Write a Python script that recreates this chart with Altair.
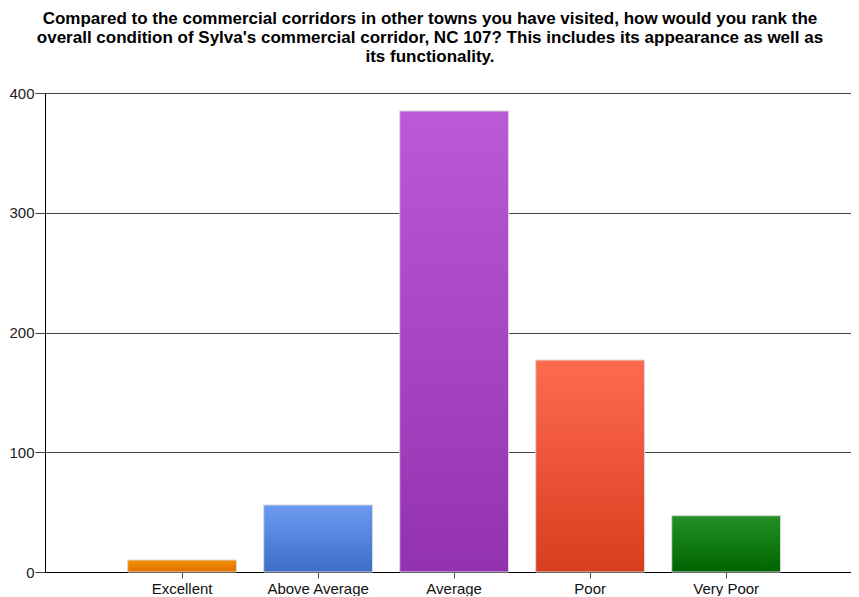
import altair as alt
import pandas as pd

categories = ["Excellent", "Above Average", "Average", "Poor", "Very Poor"]
values = [10, 56, 385, 177, 47]
top_colors = ["#f29000", "#6b9af0", "#bd58d8", "#ff6b50", "#249026"]
bottom_colors = ["#e07000", "#3d6ec8", "#9332b0", "#d83d1e", "#006400"]
y_ticks = [0, 100, 200, 300, 400]
title_lines = [
    "Compared to the commercial corridors in other towns you have visited, how would you rank the",
    "overall condition of Sylva's commercial corridor, NC 107? This includes its appearance as well as",
    "its functionality.",
]

df = pd.DataFrame({"category": categories, "value": values})

x_enc = alt.X(
    "category:N",
    sort=categories,
    title=None,
    scale=alt.Scale(domain=categories, paddingInner=0.2, paddingOuter=0.563, align=0.54),
    axis=alt.Axis(
        labelAngle=0, tickSize=6, tickColor="#444", domainColor="#000", domainWidth=1,
        labelFont="Liberation Sans", labelFontSize=15, labelColor="#111", labelPadding=3,
        grid=False,
    ),
)
y_enc = alt.Y(
    "value:Q",
    title=None,
    scale=alt.Scale(domain=[0, 400], nice=False),
    axis=alt.Axis(
        values=y_ticks, tickSize=10, tickColor="#444", domainColor="#000", domainWidth=1,
        gridColor="#444", gridWidth=1.2, gridOpacity=1,
        labelFont="Liberation Sans", labelFontSize=15, labelColor="#222", labelPadding=1,
    ),
)

layers = []
for cat, c_top, c_bot in zip(categories, top_colors, bottom_colors):
    grad = alt.Gradient(
        gradient="linear",
        stops=[alt.GradientStop(color=c_top, offset=0), alt.GradientStop(color=c_bot, offset=1)],
        x1=0, x2=0, y1=0, y2=1,
    )
    layers.append(
        alt.Chart(df)
        .transform_filter(alt.datum.category == cat)
        .mark_bar(color=grad, stroke="#d8d8d8", strokeWidth=1)
        .encode(x=x_enc, y=y_enc)
    )

chart = (
    alt.layer(*layers)
    .properties(
        width=806,
        height=479,
        title=alt.Title(
            text=title_lines, font="Liberation Sans", fontSize=17, fontWeight="bold",
            color="#000", anchor="middle", frame="bounds", lineHeight=19, offset=20,
        ),
        padding={"left": 0, "right": 0, "top": 2, "bottom": 0},
    )
    .configure_view(stroke=None)
    .configure(background="white")
)

chart.save("out.html", embed_options={"renderer": "svg", "actions": False})
